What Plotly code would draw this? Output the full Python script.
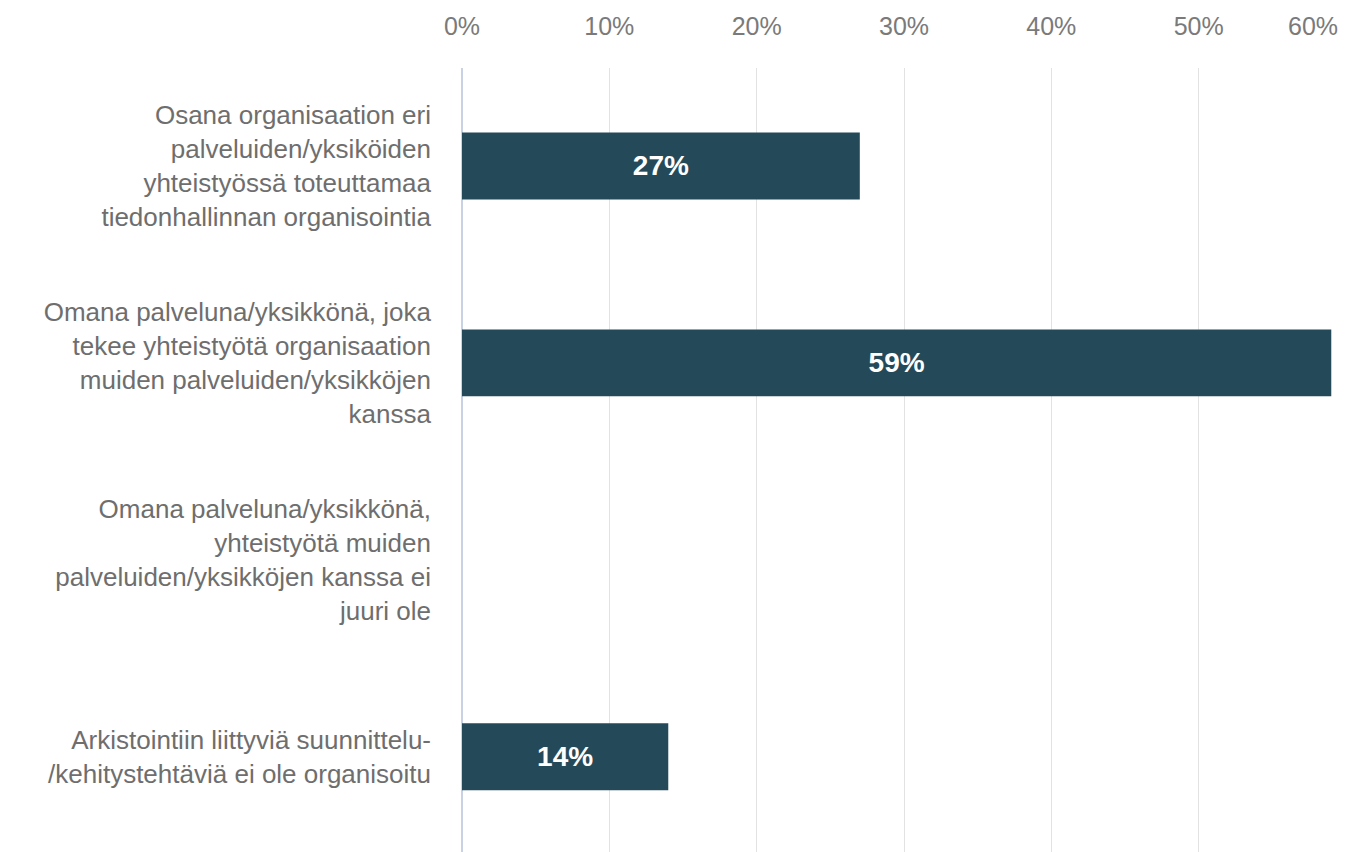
import plotly.graph_objects as go

categories = [
    "Osana organisaation eri<br>palveluiden/yksiköiden<br>yhteistyössä toteuttamaa<br>tiedonhallinnan organisointia",
    "Omana palveluna/yksikkönä, joka<br>tekee yhteistyötä organisaation<br>muiden palveluiden/yksikköjen<br>kanssa",
    "Omana palveluna/yksikkönä,<br>yhteistyötä muiden<br>palveluiden/yksikköjen kanssa ei<br>juuri ole",
    "Arkistointiin liittyviä suunnittelu-<br>/kehitystehtäviä ei ole organisoitu",
]
values = [27, 59, 0, 14]
tick_values = [0, 10, 20, 30, 40, 50, 60]
tick_labels = [f"{v}%" for v in tick_values]

bar_text = [f"<b>{v}%</b>" if v else "" for v in values]

FONT = "Liberation Sans, Arial, sans-serif"

fig = go.Figure()
fig.add_trace(go.Bar(
    y=categories,
    x=values,
    orientation="h",
    width=0.34,
    marker=dict(color="#244a59", line=dict(width=0)),
    text=bar_text,
    textposition="inside",
    insidetextanchor="middle",
    textfont=dict(color="white", size=28, family=FONT),
    textangle=0,
    hoverinfo="skip",
))

# last tick label (60%) sits at the right edge of the plot, drawn shifted left
fig.add_annotation(
    x=tick_values[-1], xref="x", y=1, yref="paper",
    text=tick_labels[-1], showarrow=False,
    xanchor="right", yanchor="middle", xshift=-6, yshift=42,
    font=dict(size=25, color="#7a7a7a", family=FONT),
)

fig.update_layout(
    width=1338, height=844,
    margin=dict(l=454, r=0, t=60, b=0),
    paper_bgcolor="white", plot_bgcolor="white",
    showlegend=False,
    font=dict(family=FONT),
    xaxis=dict(
        side="top",
        range=[0, 60],
        tickvals=tick_values[:-1],
        ticktext=tick_labels[:-1],
        tickfont=dict(size=25, color="#7a7a7a"),
        showgrid=True, gridcolor="#e2e2e2", gridwidth=1,
        zeroline=True, zerolinecolor="#c8d2e4", zerolinewidth=2,
        showline=False, ticks="",
        ticklabelstandoff=27,
        fixedrange=True,
    ),
    yaxis=dict(
        range=[3.483, -0.497],
        tickfont=dict(size=26, color="#6e6e6e"),
        ticks="",
        ticklabelstandoff=30,
        showgrid=False, zeroline=False, showline=False,
        fixedrange=True,
    ),
)

fig.write_html("out.html", config={"displayModeBar": False})
